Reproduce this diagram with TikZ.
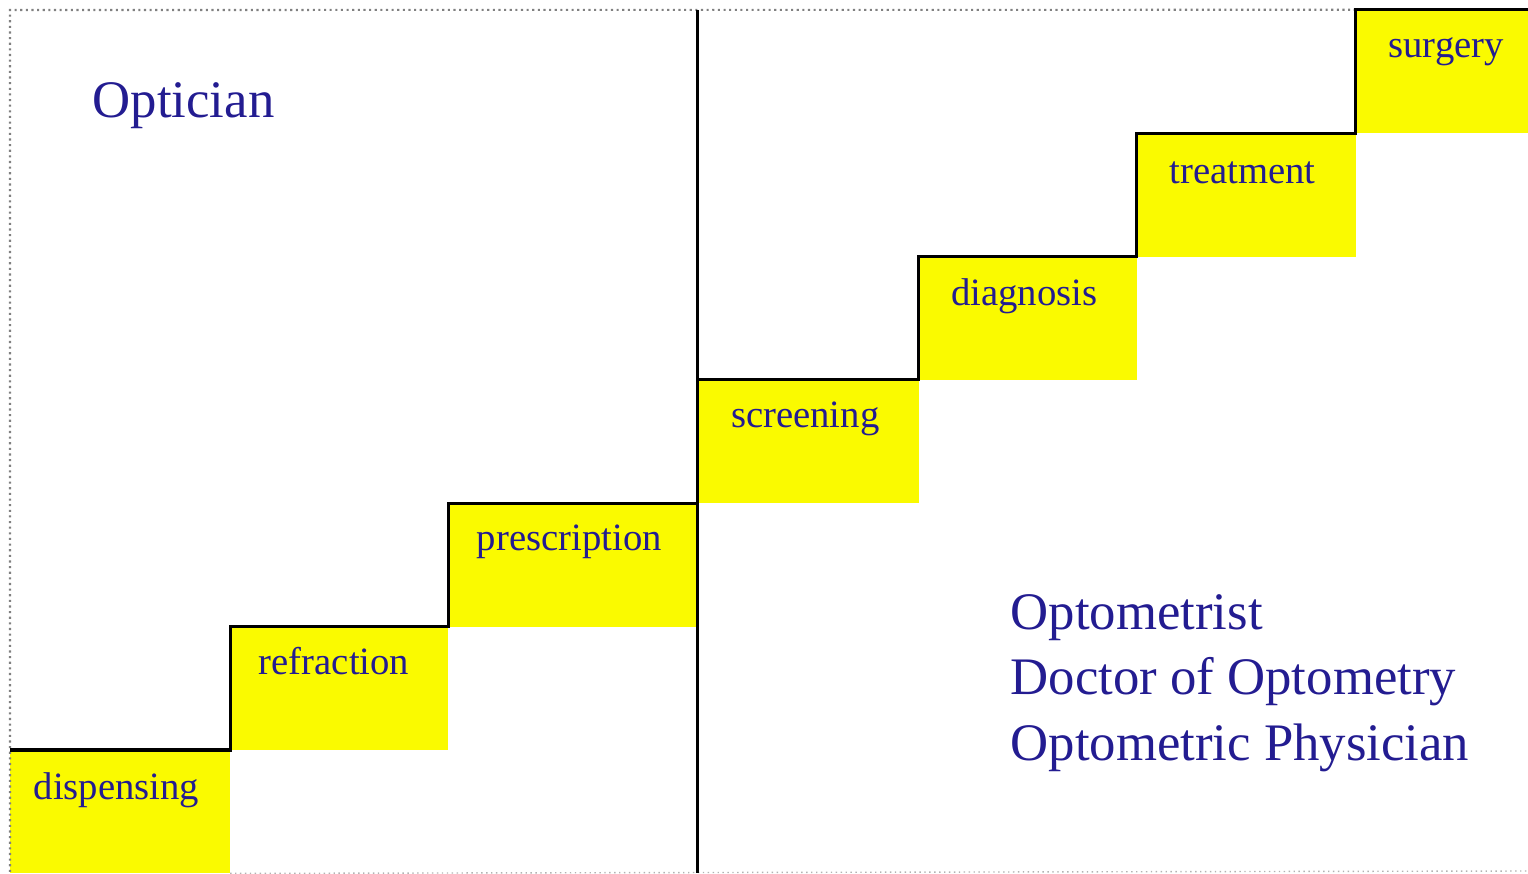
\documentclass[tikz,border=0pt]{standalone}
\usepackage{fontspec}
\setmainfont{Liberation Serif}
\usetikzlibrary{positioning}
\definecolor{stepyellow}{RGB}{250,250,0}
\definecolor{inkblue}{RGB}{35,28,145}

\begin{document}
\begin{tikzpicture}[x=0.01cm,y=-0.01cm]
  \tikzstyle{StepStyle}=[fill=stepyellow,inner sep=0pt,outer sep=0pt,minimum height=1.233cm]
  \tikzstyle{LabelStyle}=[text=inkblue,font=\fontsize{11}{13}\selectfont,inner sep=0pt,anchor=base west]
  \tikzstyle{TitleStyle}=[text=inkblue,font=\fontsize{15}{18.5}\selectfont,inner sep=0pt,anchor=base west,align=left]
  \tikzstyle{EdgeStyle}=[line width=0.9pt,line join=miter]
  \useasboundingbox (0,0) rectangle (1528,873);
  % the steps
  \node[StepStyle,minimum width=2.20cm,anchor=north west] (disp) at (10,750) {};
  \node[StepStyle,minimum width=2.18cm,above right=0pt and 0pt of disp] (refr) {};
  \node[StepStyle,minimum width=2.49cm,above right=0pt and 0pt of refr] (presc) {};
  \node[StepStyle,minimum width=2.21cm,above right=0pt and 0pt of presc] (screen) {};
  \node[StepStyle,minimum width=2.18cm,above right=0pt and 0pt of screen] (diag) {};
  \node[StepStyle,minimum width=2.19cm,above right=0pt and 0pt of diag] (treat) {};
  \node[StepStyle,minimum width=1.73cm,above right=0pt and 0pt of treat] (surg) {};
  % frame
  \draw[gray,line width=0.6pt,densely dotted] (surg.north west) -- (10,10) -- (10,873);
  \draw[gray!60,densely dotted] (disp.south east) -- (1528,871);
  % labels
  \node[LabelStyle] (tdisp) at ([xshift=0.23cm,yshift=-0.49cm]disp.north west) {dispensing};
  \node[LabelStyle] (trefr) at ([xshift=0.28cm,yshift=-0.48cm]refr.north west) {refraction};
  \node[LabelStyle] (tpresc) at ([xshift=0.28cm,yshift=-0.47cm]presc.north west) {prescription};
  \node[LabelStyle] (tscreen) at ([xshift=0.33cm,yshift=-0.48cm]screen.north west) {screening};
  \node[LabelStyle] (tdiag) at ([xshift=0.32cm,yshift=-0.49cm]diag.north west) {diagnosis};
  \node[LabelStyle] (ttreat) at ([xshift=0.32cm,yshift=-0.50cm]treat.north west) {treatment};
  \node[LabelStyle] (tsurg) at ([xshift=0.32cm,yshift=-0.48cm]surg.north west) {surgery};
  % the stairs
  \draw[EdgeStyle] (disp.north west) -- (disp.north east) -- (refr.north west)
    -- (refr.north east) -- (presc.north west) -- (presc.north east);
  \draw[EdgeStyle] (screen.north west) -- (screen.north east) -- (diag.north west)
    -- (diag.north east) -- (treat.north west) -- (treat.north east)
    -- (surg.north west) -- (surg.north east);
  \draw[EdgeStyle] (screen.north west |- surg.north west) -- (screen.north west |- disp.south west);
  % titles
  \node[TitleStyle] (optician) at (92,118) {Optician};
  \node[TitleStyle] (optometrist) at (1010,760) {Optometrist\\Doctor of Optometry\\Optometric Physician};
\end{tikzpicture}
\end{document}
